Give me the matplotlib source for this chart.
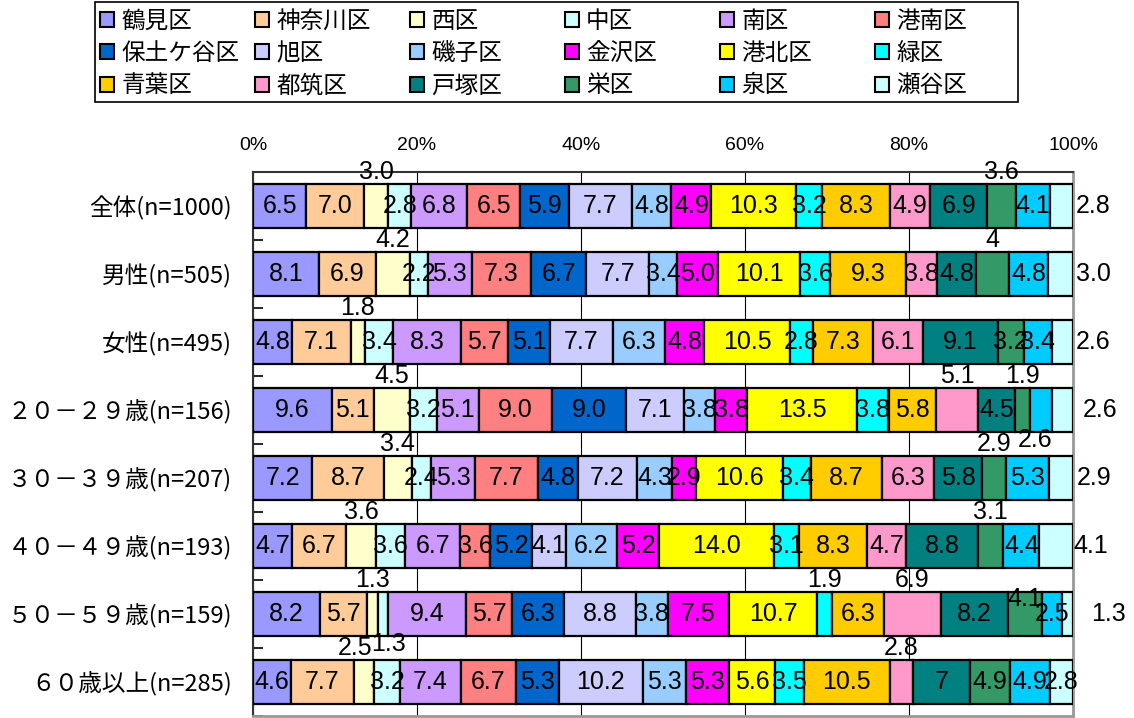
import numpy as np
import matplotlib
matplotlib.use('Agg')
import matplotlib.pyplot as plt
from matplotlib.patches import Patch, Rectangle

plt.rcParams['font.family'] = ['Noto Sans CJK JP', 'DejaVu Sans']

# 区 (legend order)
districts = ['鶴見区', '神奈川区', '西区', '中区', '南区', '港南区',
             '保土ケ谷区', '旭区', '磯子区', '金沢区', '港北区', '緑区',
             '青葉区', '都筑区', '戸塚区', '栄区', '泉区', '瀬谷区']
colors = ['#9999FF', '#FFCC99', '#FFFFCC', '#CCFFFF', '#CC99FF', '#FF8080',
          '#0066CC', '#CCCCFF', '#99CCFF', '#FF00FF', '#FFFF00', '#00FFFF',
          '#FFCC00', '#FF99CC', '#008080', '#339966', '#00CCFF', '#CCFFFF']

groups = ['全体(n=1000)', '男性(n=505)', '女性(n=495)', '２０－２９歳(n=156)',
          '３０－３９歳(n=207)', '４０－４９歳(n=193)', '５０－５９歳(n=159)',
          '６０歳以上(n=285)']

# shares (%) per group, in district order
total = [6.5, 7.0, 3.0, 2.8, 6.8, 6.5, 5.9, 7.7, 4.8, 4.9, 10.3, 3.2, 8.3, 4.9, 6.9, 3.6, 4.1, 2.8]
male = [8.1, 6.9, 4.2, 2.2, 5.3, 7.3, 6.7, 7.7, 3.4, 5.0, 10.1, 3.6, 9.3, 3.8, 4.8, 4.0, 4.8, 3.0]
female = [4.8, 7.1, 1.8, 3.4, 8.3, 5.7, 5.1, 7.7, 6.3, 4.8, 10.5, 2.8, 7.3, 6.1, 9.1, 3.2, 3.4, 2.6]
age20 = [9.6, 5.1, 4.5, 3.2, 5.1, 9.0, 9.0, 7.1, 3.8, 3.8, 13.5, 3.8, 5.8, 5.1, 4.5, 1.9, 2.6, 2.6]
age30 = [7.2, 8.7, 3.4, 2.4, 5.3, 7.7, 4.8, 7.2, 4.3, 2.9, 10.6, 3.4, 8.7, 6.3, 5.8, 2.9, 5.3, 2.9]
age40 = [4.7, 6.7, 3.6, 3.6, 6.7, 3.6, 5.2, 4.1, 6.2, 5.2, 14.0, 3.1, 8.3, 4.7, 8.8, 3.1, 4.4, 4.1]
age50 = [8.2, 5.7, 1.3, 1.3, 9.4, 5.7, 6.3, 8.8, 3.8, 7.5, 10.7, 1.9, 6.3, 6.9, 8.2, 4.1, 2.5, 1.3]
age60 = [4.6, 7.7, 2.5, 3.2, 7.4, 6.7, 5.3, 10.2, 5.3, 5.3, 5.6, 3.5, 10.5, 2.8, 7.0, 4.9, 4.9, 2.8]

rows = [total, male, female, age20, age30, age40, age50, age60]

# labels shown without decimals in the original
plain_text = {(1, 15): '4', (7, 14): '7'}

# labels moved off their bar: (where, dx in points)
label_pos = {
    (0, 2): ('above', 0), (0, 15): ('above', 0), (0, 17): ('right', 2),
    (1, 2): ('above', 0), (1, 15): ('above', 0), (1, 17): ('right', 2),
    (2, 2): ('above', 0), (2, 17): ('right', 2),
    (3, 2): ('above', 0), (3, 13): ('above', 0), (3, 15): ('above', 0),
    (3, 16): ('below', -4), (3, 17): ('right', 7),
    (4, 2): ('above', 0), (4, 15): ('above', 0), (4, 17): ('right', 3),
    (5, 2): ('above', 0), (5, 15): ('above', 0), (5, 17): ('right', 0),
    (6, 2): ('above', 0), (6, 3): ('below', 4), (6, 11): ('above', 0),
    (6, 13): ('above', 0), (6, 15): ('top', 0), (6, 17): ('right', 13),
    (7, 2): ('above', -6), (7, 13): ('above', 0),
}

fig = plt.figure(figsize=(11.34, 7.18), dpi=100)
ax = fig.add_axes([253 / 1134, 2 / 718, 820 / 1134, 544 / 718])

h = 0.66
y = np.arange(len(groups))
data = np.array(rows)
data = data / data.sum(axis=1, keepdims=True) * 100   # 100% stacked
lefts = np.zeros(len(groups))
for j, name in enumerate(districts):
    ax.barh(y, data[:, j], left=lefts, height=h, color=colors[j],
            edgecolor='black', linewidth=1.6, label=name, zorder=3)
    lefts = lefts + data[:, j]

# value labels
num_font = dict(family='Liberation Sans', fontsize=18)
for i in range(len(groups)):
    left = 0
    for j in range(len(districts)):
        v = data[i, j]
        txt = plain_text.get((i, j), '%.1f' % rows[i][j])
        where, dx = label_pos.get((i, j), ('center', 0))
        cx = left + v / 2
        if where == 'above':
            xy, ha, va, dy = (cx, i - h / 2), 'center', 'baseline', 3
        elif where == 'below':
            xy, ha, va, dy = (cx, i + h / 2), 'center', 'top', 3
        elif where == 'right':
            xy, ha, va, dy = (left + v, i), 'left', 'center', 0
        elif where == 'top':
            xy, ha, va, dy = (cx, i), 'center', 'center', 11
        else:
            xy, ha, va, dy = (cx, i), 'center', 'center', 0
        ax.annotate(txt, xy, xytext=(dx, dy), textcoords='offset points',
                    ha=ha, va=va, zorder=5, annotation_clip=False, **num_font)
        left += v

ax.set_xlim(0, 100)
ax.set_ylim(len(groups) - 0.5, -0.5)

ax.xaxis.tick_top()
ax.set_xticks(np.arange(0, 101, 20))
ax.set_xticklabels(['%d%%' % t for t in range(0, 101, 20)],
                   family='Liberation Sans', fontsize=14)
ax.tick_params(axis='x', length=0, pad=13)
ax.xaxis.grid(True, color='black', linewidth=0.8, zorder=0)

ax.set_yticks(y)
ax.set_yticklabels(groups, fontsize=17)
ax.set_yticks(np.arange(-0.5, len(groups), 1), minor=True)
ax.tick_params(axis='y', which='major', length=0, pad=15)
ax.tick_params(axis='y', which='minor', direction='in', length=7, width=1.2)

for side in ['top', 'left']:
    ax.spines[side].set_color('#333333')
    ax.spines[side].set_linewidth(1.5)
for side in ['right', 'bottom']:
    ax.spines[side].set_color('#999999')
    ax.spines[side].set_linewidth(2)

# legend: 6 fixed-width columns, filled row by row like the original
for c in range(6):
    idx = [r * 6 + c for r in range(3)]
    handles = [Patch(facecolor=colors[k], edgecolor='black', linewidth=1.5) for k in idx]
    fig.legend(handles, [districts[k] for k in idx], loc='upper left',
               bbox_to_anchor=((100 + 155 * c) / 1134, 1 - 10 / 718),
               borderaxespad=0, borderpad=0, frameon=False, fontsize=17,
               handlelength=0.6, handleheight=0.6, handletextpad=0.3,
               labelspacing=0.39)
fig.patches.append(Rectangle((95 / 1134, 1 - 102 / 718), 923 / 1134, 100 / 718,
                             transform=fig.transFigure, fill=False,
                             edgecolor='black', linewidth=1.2))

plt.savefig('out.png', dpi=100)
